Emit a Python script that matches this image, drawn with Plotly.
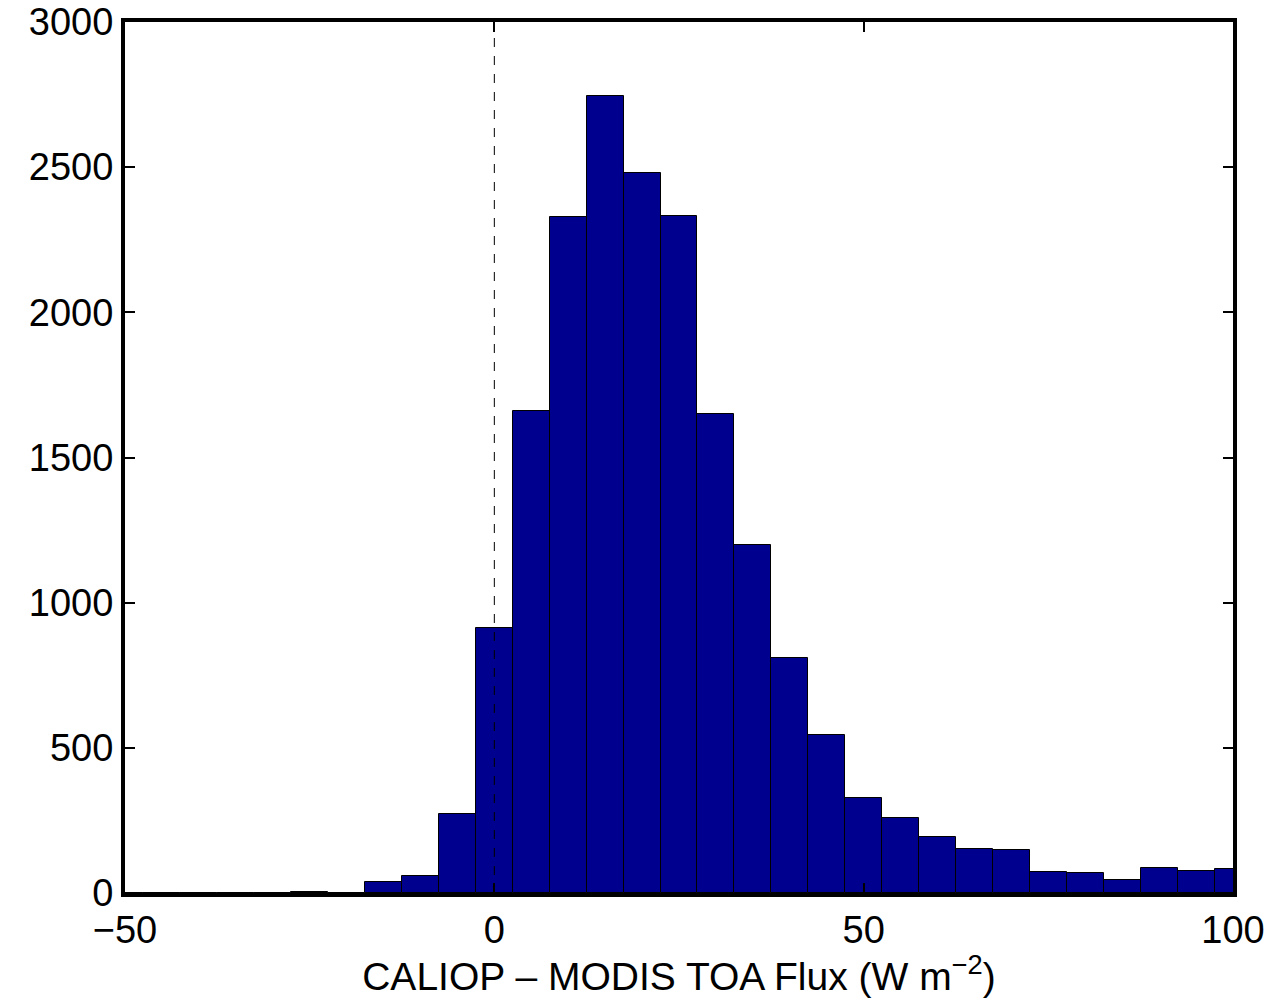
import plotly.graph_objects as go

# Histogram bin centres (W m^-2) and counts
bin_centers = [-50, -45, -40, -35, -30, -25, -20, -15, -10, -5, 0, 5, 10, 15, 20, 25,
               30, 35, 40, 45, 50, 55, 60, 65, 70, 75, 80, 85, 90, 95, 100]
counts = [0, 0, 0, 0, 0, 2, 0, 38, 58, 272, 913, 1660, 2329, 2745, 2480, 2332,
          1650, 1199, 809, 544, 327, 258, 193, 151, 148, 72, 69, 45, 86, 76, 83]

x_ticks = [-50, 0, 50, 100]
y_ticks = [0, 500, 1000, 1500, 2000, 2500, 3000]

FONT = "Liberation Sans, Arial, Helvetica, sans-serif"

fig = go.Figure()
fig.add_trace(go.Bar(
    x=bin_centers, y=counts, width=5,
    marker=dict(color="#00008F", line=dict(color="black", width=1)),
    showlegend=False,
))

fig.add_shape(type="line", xref="x", yref="paper", x0=0, x1=0, y0=0, y1=1,
              line=dict(color="black", width=1, dash="dash"), layer="above")

axis_common = dict(
    showline=True, linewidth=4, linecolor="black", mirror="allticks",
    ticks="inside", ticklen=10, tickwidth=2, tickcolor="black",
    showgrid=False, zeroline=False, automargin=False,
    tickfont=dict(family=FONT, size=38, color="black"),
)

fig.update_layout(
    width=1280, height=998,
    margin=dict(l=125, r=47, t=22, b=105),
    paper_bgcolor="white", plot_bgcolor="white",
    bargap=0,
    xaxis=dict(range=[-50, 100], tickvals=x_ticks, ticktext=["\u221250", "0", "50", "100"],
               title=dict(text="CALIOP \u2013 MODIS TOA Flux (W m<sup>\u22122</sup>)",
                          font=dict(family=FONT, size=39, color="black"), standoff=2),
               **axis_common),
    yaxis=dict(range=[0, 3000], tickvals=y_ticks, **axis_common),
)

fig.write_html("out.html")
